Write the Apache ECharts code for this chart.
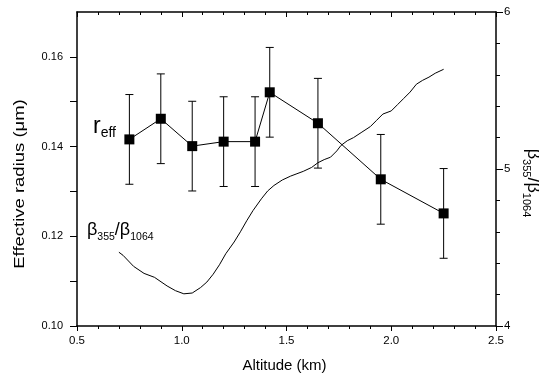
<!DOCTYPE html>
<html><head><meta charset="utf-8">
<script src="https://cdn.jsdelivr.net/npm/echarts@6/dist/echarts.min.js"></script>
<style>html,body{margin:0;padding:0;background:#fff}#c{width:539px;height:379px}</style>
</head><body><div id="c"></div>
<script>
// r_eff measurements
const altitude = [0.75, 0.90, 1.05, 1.20, 1.35, 1.42, 1.65, 1.95, 2.25];
const effRadius = [0.1416, 0.1462, 0.1401, 0.1411, 0.1411, 0.1521, 0.1452, 0.1327, 0.1251];
const radiusError = [0.010, 0.010, 0.010, 0.010, 0.010, 0.010, 0.010, 0.010, 0.010];
// beta355/beta1064 profile
const ratioAltitude = [0.70, 0.72, 0.77, 0.82, 0.87, 0.93, 0.97, 1.01, 1.05, 1.09, 1.12, 1.15, 1.18, 1.21, 1.25, 1.28, 1.31, 1.34, 1.38, 1.41, 1.44, 1.48, 1.52, 1.55, 1.58, 1.62, 1.65, 1.68, 1.71, 1.74, 1.76, 1.79, 1.82, 1.86, 1.90, 1.93, 1.96, 2.00, 2.03, 2.06, 2.09, 2.12, 2.15, 2.18, 2.21, 2.25];
const ratioValues = [4.47, 4.45, 4.38, 4.335, 4.31, 4.255, 4.225, 4.205, 4.21, 4.245, 4.28, 4.33, 4.39, 4.46, 4.535, 4.60, 4.67, 4.735, 4.81, 4.86, 4.895, 4.93, 4.955, 4.97, 4.985, 5.01, 5.04, 5.06, 5.075, 5.115, 5.15, 5.18, 5.20, 5.235, 5.27, 5.31, 5.35, 5.37, 5.41, 5.45, 5.49, 5.54, 5.565, 5.585, 5.61, 5.635];
// ticks / tick labels
const leftTickValues = [0.10, 0.11, 0.12, 0.13, 0.14, 0.15, 0.16];
const leftLabelValues = [0.10, 0.12, 0.14, 0.16];

const FONT = 'Liberation Sans, Arial, sans-serif';
const chart = echarts.init(document.getElementById('c'));
const black = '#000';
const subRich = (main, sub, lh) => ({
  m: {fontSize: main, fontFamily: FONT, lineHeight: lh, verticalAlign: 'middle', fill: black},
  s: {fontSize: sub, fontFamily: FONT, lineHeight: sub, verticalAlign: 'bottom', fill: black}
});
const axisLineStyle = () => ({color: black, width: 1.5});
const tickLineStyle = () => ({color: black, width: 1});

chart.setOption({
  animation: false,
  grid: {left: 77, right: 43, top: 12, bottom: 53},
  xAxis: [{
    type: 'value', min: 0.5, max: 2.5, interval: 0.5, position: 'bottom',
    axisLine: {show: true, lineStyle: axisLineStyle()},
    axisTick: {show: true, length: 5, lineStyle: tickLineStyle()},
    minorTick: {show: true, splitNumber: 5, length: 3, lineStyle: tickLineStyle()},
    axisLabel: {margin: 9, color: black, fontSize: 11.5, fontFamily: FONT, formatter: v => v.toFixed(1)},
    splitLine: {show: false}
  }, {
    type: 'value', min: 0.5, max: 2.5, interval: 0.5, position: 'top',
    axisLine: {show: true, lineStyle: axisLineStyle()},
    axisTick: {show: true, inside: true, length: 5, lineStyle: tickLineStyle()},
    minorTick: {show: true, splitNumber: 5, length: 3, lineStyle: tickLineStyle()},
    axisLabel: {show: false},
    splitLine: {show: false}
  }],
  yAxis: [{
    type: 'value', min: 0.10, max: 0.17, position: 'left',
    axisLine: {show: true, lineStyle: axisLineStyle()},
    axisTick: {show: true, length: 7, customValues: leftTickValues, lineStyle: tickLineStyle()},
    axisLabel: {margin: 14, color: black, fontSize: 11, fontFamily: FONT, customValues: leftLabelValues, formatter: v => v.toFixed(2)},
    splitLine: {show: false}
  }, {
    type: 'value', min: 4, max: 6, interval: 1, position: 'right',
    axisLine: {show: true, lineStyle: axisLineStyle()},
    axisTick: {show: true, length: 7, lineStyle: tickLineStyle()},
    minorTick: {show: true, splitNumber: 5, length: 4, lineStyle: tickLineStyle()},
    axisLabel: {margin: 8, color: black, fontSize: 11.5, fontFamily: FONT},
    splitLine: {show: false}
  }],
  series: [{
    type: 'custom', xAxisIndex: 0, yAxisIndex: 0, z: 2,
    data: altitude.map((x, i) => [x, effRadius[i] - radiusError[i], effRadius[i] + radiusError[i]]),
    encode: {x: 0, y: [1, 2]},
    renderItem: (params, api) => {
      const x = api.value(0);
      const lo = api.coord([x, api.value(1)]);
      const hi = api.coord([x, api.value(2)]);
      const w = 4;
      const st = {stroke: black, lineWidth: 1};
      return {type: 'group', children: [
        {type: 'line', shape: {x1: lo[0], y1: lo[1], x2: hi[0], y2: hi[1]}, style: st},
        {type: 'line', shape: {x1: lo[0] - w, y1: lo[1], x2: lo[0] + w, y2: lo[1]}, style: st},
        {type: 'line', shape: {x1: hi[0] - w, y1: hi[1], x2: hi[0] + w, y2: hi[1]}, style: st}
      ]};
    }
  }, {
    type: 'line', xAxisIndex: 0, yAxisIndex: 0, z: 3,
    data: altitude.map((x, i) => [x, effRadius[i]]),
    symbol: 'rect', symbolSize: 10,
    itemStyle: {color: black},
    lineStyle: {color: black, width: 1}
  }, {
    type: 'line', xAxisIndex: 0, yAxisIndex: 1, z: 3,
    data: ratioAltitude.map((x, i) => [x, ratioValues[i]]),
    symbol: 'none',
    lineStyle: {color: black, width: 1}
  }],
  graphic: [{
    type: 'text', x: 93, y: 114,
    style: {text: '{m|r}{s|eff}', rich: subRich(23, 14, 26), align: 'left', verticalAlign: 'top', fill: black}
  }, {
    type: 'text', x: 87, y: 218.5,
    style: {text: '{m|β}{s|355}{m|/β}{s|1064}', rich: subRich(18, 10.5, 24), align: 'left', verticalAlign: 'top', fill: black}
  }, {
    type: 'text', x: 533, y: 183, rotation: -Math.PI / 2,
    style: {text: '{m|β}{s|355}{m|/β}{s|1064}', rich: subRich(18, 11, 24), align: 'center', verticalAlign: 'middle', fill: black}
  }, {
    type: 'text', x: 20, y: 184, rotation: Math.PI / 2, scaleX: 1.32,
    style: {text: 'Effective radius (μm)', fontSize: 14, fontFamily: FONT, align: 'center', verticalAlign: 'middle', fill: black}
  }, {
    type: 'text', x: 284.5, y: 366,
    style: {text: 'Altitude (km)', fontSize: 15, fontFamily: FONT, align: 'center', verticalAlign: 'middle', fill: black}
  }]
});
</script>
</body></html>
